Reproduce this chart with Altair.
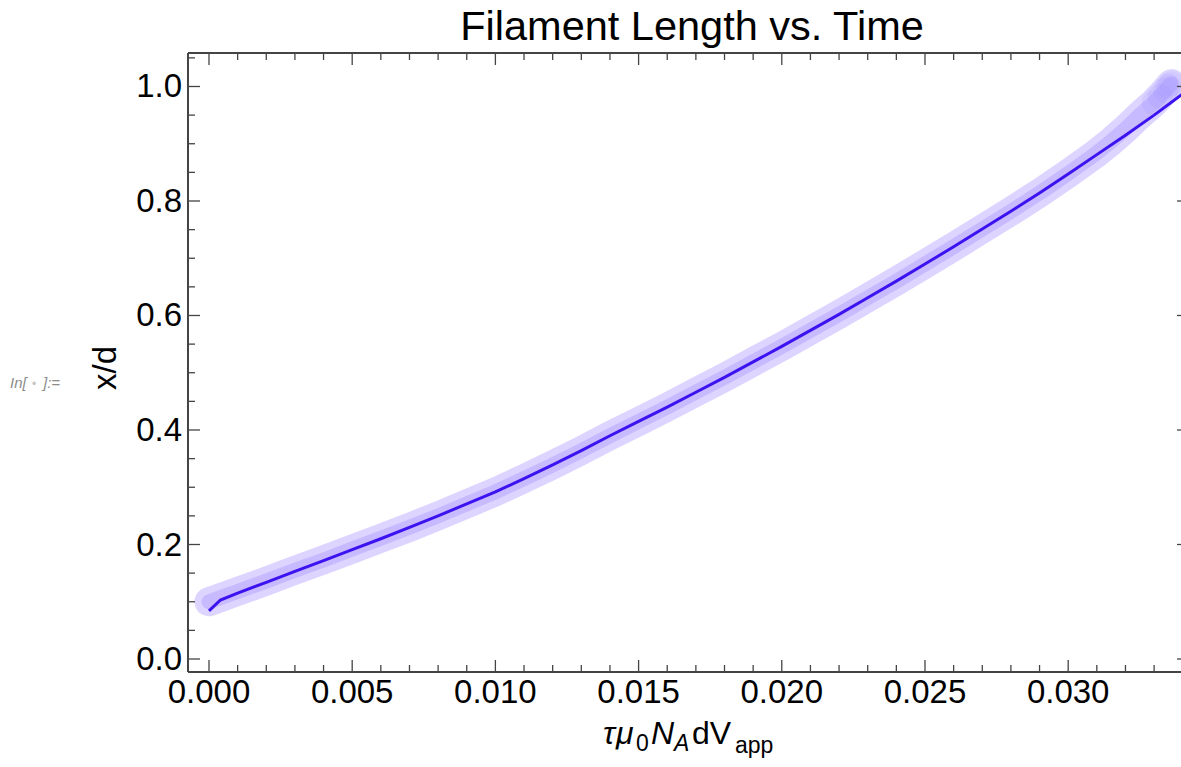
import altair as alt
import pandas as pd

# ---------------- data ----------------
line_t = [0.0, 0.0004, 0.001, 0.002, 0.003, 0.004, 0.005, 0.006, 0.007, 0.008, 0.009,
          0.010, 0.011, 0.012, 0.013, 0.014, 0.015, 0.016, 0.017, 0.018, 0.019,
          0.020, 0.021, 0.022, 0.023, 0.024, 0.025, 0.026, 0.027, 0.028, 0.029,
          0.030, 0.031, 0.032, 0.033, 0.034]
line_y = [0.084, 0.103, 0.115, 0.134, 0.153, 0.172, 0.191, 0.210, 0.230, 0.250, 0.271,
          0.292, 0.315, 0.339, 0.364, 0.390, 0.415, 0.440, 0.466, 0.492, 0.519,
          0.546, 0.574, 0.602, 0.631, 0.660, 0.690, 0.720, 0.751, 0.782, 0.814,
          0.847, 0.881, 0.915, 0.950, 0.987]

band_t = [0.0, 0.0005, 0.001, 0.002, 0.003, 0.004, 0.005, 0.006, 0.007, 0.008, 0.009,
          0.010, 0.011, 0.012, 0.013, 0.014, 0.015, 0.016, 0.017, 0.018, 0.019,
          0.020, 0.021, 0.022, 0.023, 0.024, 0.025, 0.026, 0.027, 0.028, 0.029,
          0.030, 0.031, 0.0315, 0.032, 0.0325, 0.033, 0.0333, 0.0336]
band_y = [0.100, 0.109, 0.118, 0.136, 0.155, 0.173, 0.192, 0.211, 0.230, 0.250, 0.271,
          0.292, 0.315, 0.339, 0.364, 0.390, 0.415, 0.440, 0.466, 0.492, 0.519,
          0.546, 0.574, 0.602, 0.631, 0.660, 0.690, 0.720, 0.751, 0.782, 0.814,
          0.848, 0.884, 0.904, 0.926, 0.950, 0.972, 0.988, 1.005]

end_t = [0.0330, 0.0332, 0.0334, 0.0335, 0.0336]
end_y = [0.972, 0.983, 0.994, 1.000, 1.005]

x_major = [0.000, 0.005, 0.010, 0.015, 0.020, 0.025, 0.030]
x_minor = [0.001, 0.002, 0.003, 0.004, 0.006, 0.007, 0.008, 0.009,
           0.011, 0.012, 0.013, 0.014, 0.016, 0.017, 0.018, 0.019,
           0.021, 0.022, 0.023, 0.024, 0.026, 0.027, 0.028, 0.029,
           0.031, 0.032, 0.033]
y_major = [0.0, 0.2, 0.4, 0.6, 0.8, 1.0]
y_minor = [0.05, 0.10, 0.15, 0.25, 0.30, 0.35, 0.45, 0.50, 0.55,
           0.65, 0.70, 0.75, 0.85, 0.90, 0.95, 1.05]

# ---------------- layout ----------------
W, H = 993, 619
FONT = "Liberation Sans"
FRAME = "#444444"
MAJ, MIN = 12, 7

xs = alt.Scale(domain=[-0.000733, 0.033939], zero=False, nice=False)
ys = alt.Scale(domain=[-0.0227, 1.0585], zero=False, nice=False)

df_line = pd.DataFrame({"t": line_t, "y": line_y})
df_band = pd.DataFrame({"t": band_t, "y": band_y})
df_end = pd.DataFrame({"t": end_t, "y": end_y})
df_xmaj = pd.DataFrame({"v": x_major})
df_xmin = pd.DataFrame({"v": x_minor})
df_ymaj = pd.DataFrame({"v": y_major})
df_ymin = pd.DataFrame({"v": y_minor})


def X(f):
    return alt.X(f, type="quantitative", scale=xs, axis=None)


def Y(f):
    return alt.Y(f, type="quantitative", scale=ys, axis=None)


band_outer = alt.Chart(df_band).mark_line(
    strokeWidth=29, strokeCap="round", strokeJoin="round", color="#ddd5ff", clip=True
).encode(x=X("t"), y=Y("y"))
band_inner = alt.Chart(df_band).mark_line(
    strokeWidth=15, strokeCap="round", strokeJoin="round", color="#c8baff", clip=True
).encode(x=X("t"), y=Y("y"))
end_pts = alt.Chart(df_end).mark_circle(
    size=620, color="#9d8cff", opacity=0.16, clip=True
).encode(x=X("t"), y=Y("y"))

main_line = alt.Chart(df_line).mark_line(
    strokeWidth=3, color="#3c12f0", clip=True
).encode(x=X("t"), y=Y("y"))


def rule(df, **enc):
    return alt.Chart(df).mark_rule(color=FRAME, strokeWidth=1.3).encode(**enc)


ticks = [
    rule(df_xmaj, x=X("v"), y=alt.value(H), y2=alt.value(H - MAJ)),
    rule(df_xmin, x=X("v"), y=alt.value(H), y2=alt.value(H - MIN)),
    rule(df_xmaj, x=X("v"), y=alt.value(0), y2=alt.value(MAJ)),
    rule(df_xmin, x=X("v"), y=alt.value(0), y2=alt.value(MIN)),
    rule(df_ymaj, y=Y("v"), x=alt.value(0), x2=alt.value(MAJ)),
    rule(df_ymin, y=Y("v"), x=alt.value(0), x2=alt.value(MIN)),
    rule(df_ymaj, y=Y("v"), x=alt.value(W - 4), x2=alt.value(W)),
]

tick_labels = [
    alt.Chart(df_xmaj).mark_text(
        font=FONT, fontSize=33, color="black", align="center", baseline="alphabetic"
    ).encode(x=X("v"), y=alt.value(H + 31), text=alt.Text("v:Q", format=".3f")),
    alt.Chart(df_ymaj).mark_text(
        font=FONT, fontSize=33, color="black", align="right", baseline="alphabetic", dy=11
    ).encode(y=Y("v"), x=alt.value(-6), text=alt.Text("v:Q", format=".1f")),
]

frame = [
    alt.Chart(df_xmaj).mark_rule(color=FRAME, strokeWidth=1.5).encode(
        x=alt.value(0), y=alt.value(0), y2=alt.value(H)),
    alt.Chart(df_xmaj).mark_rule(color=FRAME, strokeWidth=1.5).encode(
        x=alt.value(0), x2=alt.value(W), y=alt.value(H)),
    alt.Chart(df_xmaj).mark_rule(color=FRAME, strokeWidth=1.5).encode(
        x=alt.value(0), x2=alt.value(W), y=alt.value(0)),
]


def label(text, x, y, size, style="normal", color="black", align="left"):
    return alt.Chart(pd.DataFrame({"s": [text]})).mark_text(
        font=FONT, fontSize=size, fontStyle=style, color=color, align=align,
        baseline="alphabetic"
    ).encode(text="s:N", x=alt.value(x), y=alt.value(y))


L, T = 188, 53
texts = [
    label("Filament Length vs. Time", 692 - L, 40 - T, 41.5, align="center"),
    alt.Chart(pd.DataFrame({"s": ["x/d"]})).mark_text(
        font=FONT, fontSize=33, color="black", align="center", baseline="middle", angle=270
    ).encode(text="s:N", x=alt.value(106 - L), y=alt.value(368 - T)),
    label("τ", 603 - L, 744 - T, 32, style="italic"),
    label("μ", 616 - L, 744 - T, 32, style="italic"),
    label("0", 636 - L, 751 - T, 23),
    label("N", 651 - L, 744 - T, 32, style="italic"),
    label("A", 674 - L, 751 - T, 23, style="italic"),
    label("dV", 692 - L, 744 - T, 32),
    label("app", 735 - L, 753 - T, 23),
    label("In[", 10 - L, 388 - T, 15, style="italic", color="#8c8c8c"),
    label("•", 34 - L, 388 - T, 12, color="#c4c4c4", align="center"),
    label("]:=", 43 - L, 388 - T, 15, style="italic", color="#8c8c8c"),
]

chart = alt.layer(
    band_outer, band_inner, end_pts, main_line, *ticks, *frame, *tick_labels, *texts
).properties(
    width=W, height=H,
    autosize=alt.AutoSizeParams(type="none"),
    padding={"left": L, "top": T, "right": 0, "bottom": 95},
    background="white",
).configure_view(strokeWidth=0)

chart.save("out.html", embed_options={"renderer": "svg", "actions": False})
